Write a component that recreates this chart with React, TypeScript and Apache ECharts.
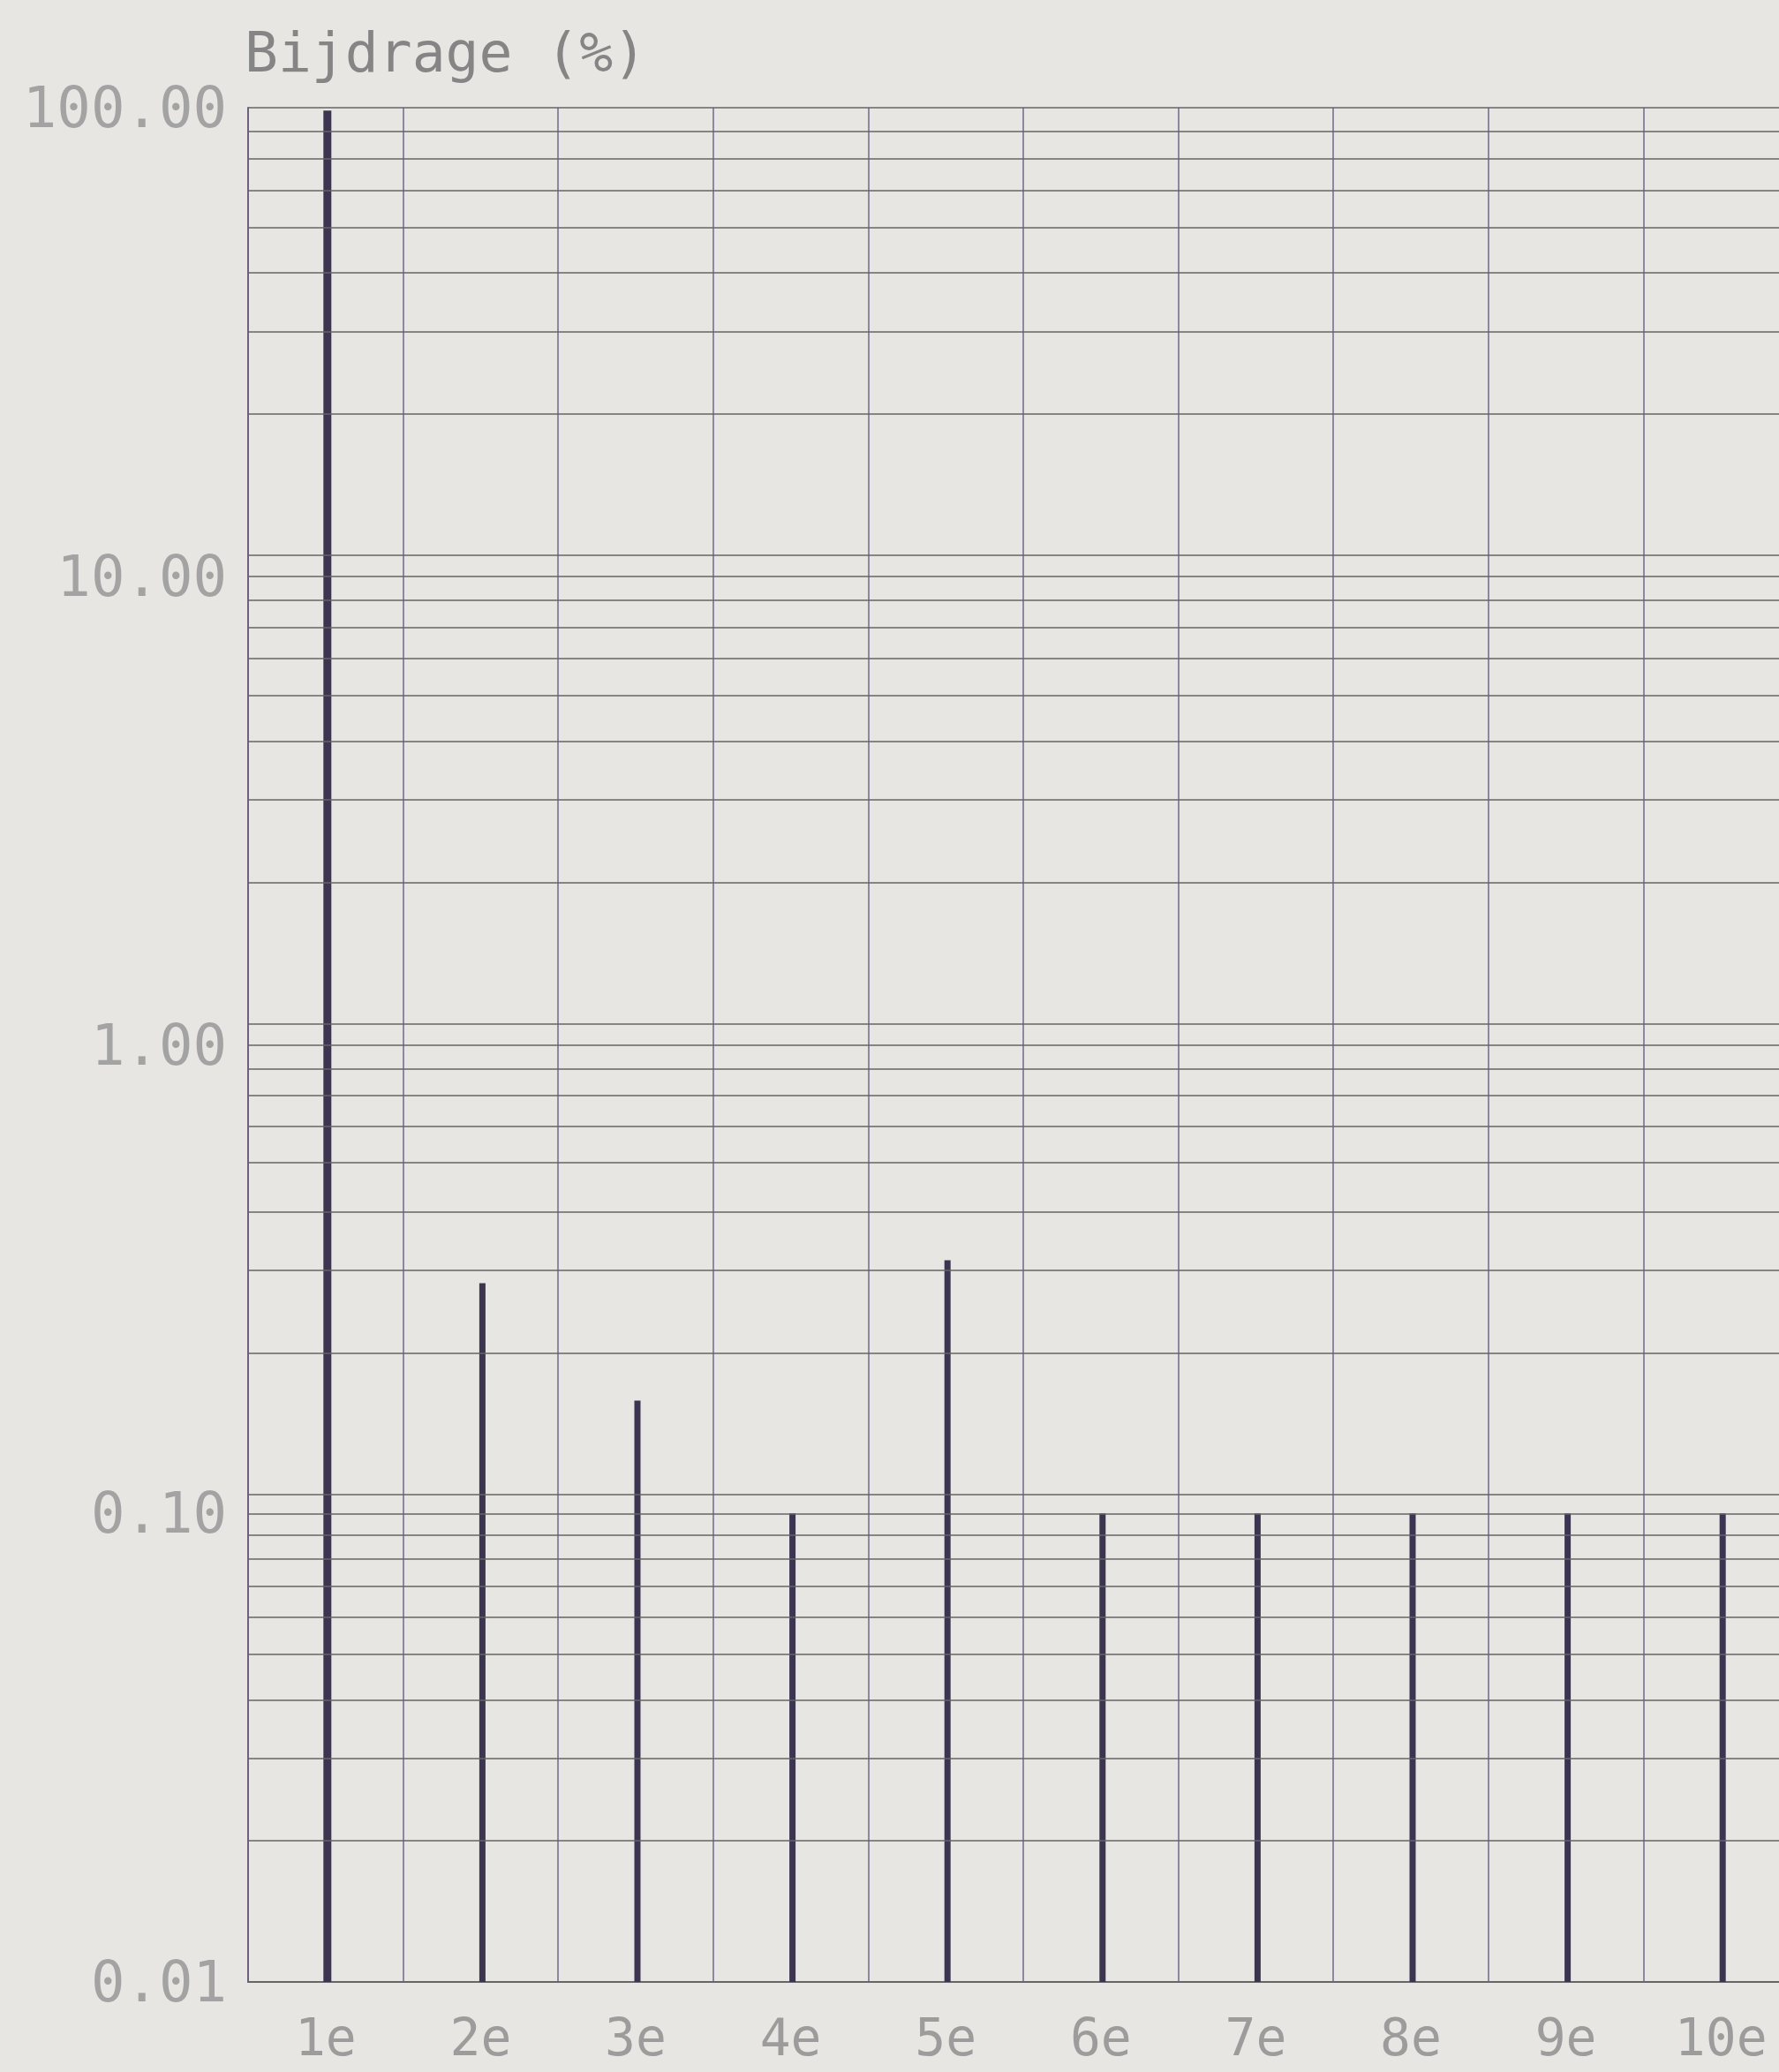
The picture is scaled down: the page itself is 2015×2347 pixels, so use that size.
import React, { useEffect, useRef } from "react";
import * as echarts from "echarts";

const categories = ["1e", "2e", "3e", "4e", "5e", "6e", "7e", "8e", "9e", "10e"];
const contribution = [98.6, 0.31, 0.174, 0.1, 0.347, 0.1, 0.1, 0.1, 0.1, 0.1];
const yTickLabels = ["0.01", "0.10", "1.00", "10.00", "100.00"];
const gridValues = [
  100, 88.9, 77.8, 66.7, 55.6, 44.4, 33.3, 22.2, 11.1,
  10, 8.89, 7.78, 6.67, 5.56, 4.44, 3.33, 2.22, 1.11,
  1, 0.889, 0.778, 0.667, 0.556, 0.444, 0.333, 0.222, 0.111,
  0.1, 0.09, 0.08, 0.07, 0.06, 0.05, 0.04, 0.03, 0.02,
];
const yMin = 0.01;
const yMax = 100;
const titleText = "Bijdrage (%)";

export default function App() {
  const ref = useRef<HTMLDivElement>(null);
  useEffect(() => {
    if (!ref.current) return;
    const chart = echarts.init(ref.current, null, { renderer: "svg" });
    const font = "DejaVu Sans Mono";
    chart.setOption({
      animation: false,
      backgroundColor: "#e7e6e2",
      grid: { left: 281, top: 122, width: 1756, height: 2123, containLabel: false },
      graphic: [
        {
          type: "text",
          left: 277,
          top: 28,
          style: {
            text: titleText,
            fontFamily: font,
            fontWeight: "normal",
            fontSize: 63,
            fill: "#858585",
          },
        },
      ],
      xAxis: {
        type: "category",
        data: categories,
        boundaryGap: true,
        axisLine: { show: true, lineStyle: { color: "#666666", width: 2 } },
        axisTick: { show: false },
        axisLabel: {
          margin: 34,
          fontFamily: font,
          fontSize: 58,
          color: "#9c9c9c",
          interval: 0,
        },
        splitLine: { show: true, interval: 0, lineStyle: { color: "#74668a", width: 1.5 } },
      },
      yAxis: {
        type: "log",
        logBase: 10,
        min: yMin,
        max: yMax,
        axisLine: { show: true, lineStyle: { color: "#6f6080", width: 2 } },
        axisTick: { show: false },
        splitLine: { show: false },
        minorSplitLine: { show: false },
        axisLabel: {
          margin: 24,
          fontFamily: font,
          fontSize: 64,
          color: "#a3a3a3",
          formatter: (v: number) => {
            const s = v.toFixed(2);
            return yTickLabels.includes(s) ? s : "";
          },
        },
      },
      series: [
        {
          type: "line",
          data: categories.map(() => null),
          symbol: "none",
          silent: true,
          markLine: {
            silent: true,
            symbol: ["none", "none"],
            label: { show: false },
            lineStyle: { color: "#646464", width: 1.5, type: "solid" },
            data: gridValues.map((v) => ({ yAxis: v })),
          },
        },
        {
          type: "custom",
          data: contribution.map((v, i) => [i, v]),
          encode: { x: 0, y: 1 },
          renderItem: (params: any, api: any) => {
            const idx = api.value(0);
            const v = api.value(1);
            const top = api.coord([idx, v]);
            const bottom = api.coord([idx, yMin]);
            const w = params.dataIndex === 0 ? 9 : 7;
            return {
              type: "rect",
              shape: { x: top[0] - w / 2 + 2, y: top[1], width: w, height: bottom[1] - top[1] },
              style: { fill: "#3d3452" },
            };
          },
        },
      ],
    });
    return () => chart.dispose();
  }, []);
  return (
    <div style={{ position: "absolute", left: 0, top: 0, width: 2015, height: 2347, overflow: "hidden" }}>
      <div ref={ref} style={{ width: 2060, height: 2347 }} />
    </div>
  );
}
